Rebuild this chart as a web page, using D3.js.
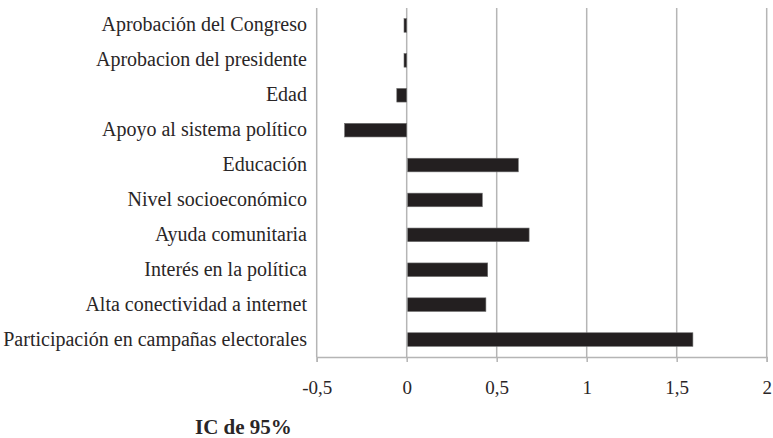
<!DOCTYPE html>
<html>
<head>
<meta charset="utf-8">
<script src="https://cdn.jsdelivr.net/npm/d3@7"></script>
</head>
<body style="margin:0">
<svg id="chart" width="773" height="438"></svg>
<script>
// Predictors, listed top to bottom
const categories = [
  "Aprobación del Congreso",
  "Aprobacion del presidente",
  "Edad",
  "Apoyo al sistema político",
  "Educación",
  "Nivel socioeconómico",
  "Ayuda comunitaria",
  "Interés en la política",
  "Alta conectividad a internet",
  "Participación en campañas electorales"
];
// Coefficient estimates
const values = [-0.015, -0.015, -0.055, -0.345, 0.62, 0.42, 0.68, 0.45, 0.44, 1.59];
const xTicks = [-0.5, 0, 0.5, 1, 1.5, 2];
const xTickLabels = ["-0,5", "0", "0,5", "1", "1,5", "2"];
const axisTitle = "IC de 95%";

const FONT = "Liberation Serif";
const TEXT_COLOR = "#2a2627";

const svg = d3.select("#chart");
const margin = { left: 316.7, right: 6.3, top: 8, bottom: 81 };
const W = 773, H = 438;

const x = d3.scaleLinear().domain([-0.5, 2]).range([margin.left, W - margin.right]);
const y = d3.scaleBand().domain(categories).range([margin.top, H - margin.bottom]).paddingInner(0.61).paddingOuter(0.305);

const gridColor = "#b5b5b5";

// vertical gridlines
svg.append("g").selectAll("line").data(xTicks).join("line")
  .attr("x1", d => x(d)).attr("x2", d => x(d))
  .attr("y1", margin.top).attr("y2", H - margin.bottom)
  .attr("stroke", gridColor).attr("stroke-width", 1.5);

// bars
svg.append("g").selectAll("rect").data(values).join("rect")
  .attr("x", d => Math.min(x(0), x(d)) + (d > 0 ? 1 : 0))
  .attr("width", d => Math.abs(x(d) - x(0)) - (d > 0 ? 1 : 0))
  .attr("y", (d, i) => y(categories[i]))
  .attr("height", y.bandwidth())
  .attr("fill", "#231f20")
  .attr("stroke", "#6e6e6e").attr("stroke-width", 0.6);

// x axis
const xAxis = d3.axisBottom(x).tickValues(xTicks)
  .tickFormat((d, i) => xTickLabels[i]).tickSize(5).tickPadding(19);
const gx = svg.append("g").attr("transform", `translate(0,${H - margin.bottom})`).call(xAxis);
gx.select(".domain").attr("stroke", gridColor).attr("stroke-width", 1.5);
gx.selectAll(".tick line").attr("stroke", gridColor).attr("stroke-width", 1.5);
gx.selectAll(".tick text")
  .attr("font-family", FONT).attr("font-size", 19).attr("fill", TEXT_COLOR);

// category labels
svg.append("g").selectAll("text").data(categories).join("text")
  .attr("x", 307)
  .attr("y", d => y(d) + y.bandwidth() / 2)
  .attr("dy", "0.3em")
  .attr("text-anchor", "end")
  .attr("font-family", FONT).attr("font-size", 20).attr("fill", TEXT_COLOR)
  .text(d => d);

// axis title
svg.append("text")
  .attr("x", 195).attr("y", 434)
  .attr("font-family", FONT).attr("fill", TEXT_COLOR)
  .attr("font-size", 21).attr("font-weight", "bold")
  .text(axisTitle);
</script>
</body>
</html>
